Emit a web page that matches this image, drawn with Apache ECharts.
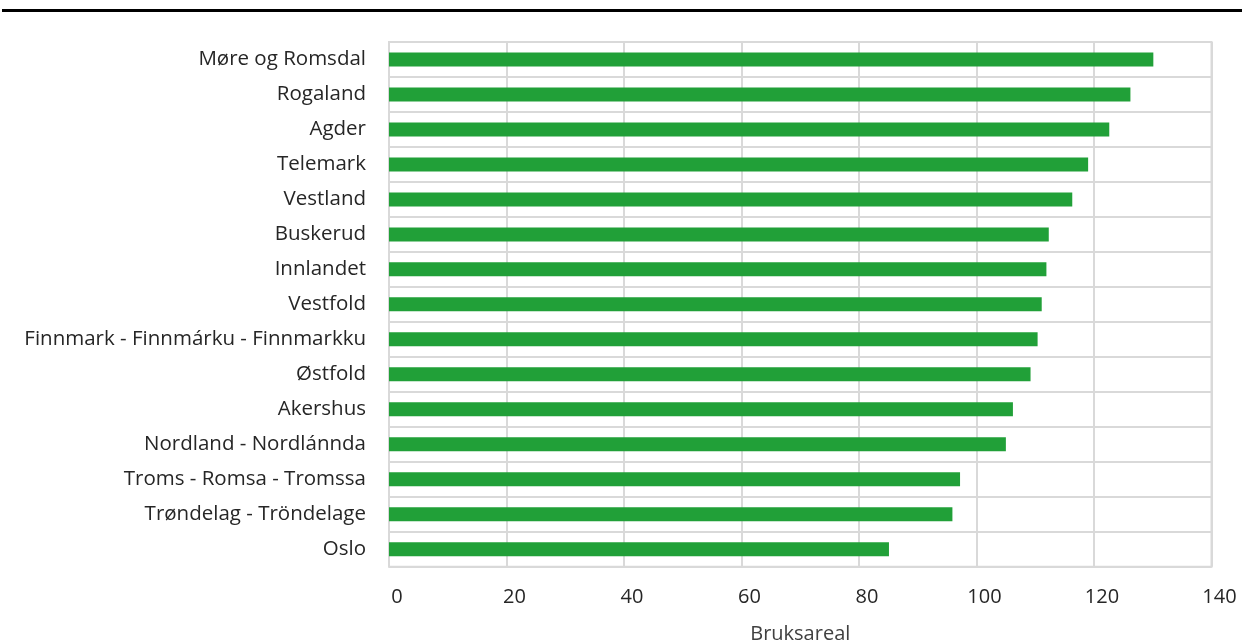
<!DOCTYPE html>
<html>
<head>
<meta charset="utf-8">
<style>html,body{margin:0;padding:0;background:#fff;}#c{width:1242px;height:643px;}</style>
<script src="https://cdn.jsdelivr.net/npm/echarts@6/dist/echarts.min.js"></script>
</head>
<body>
<div id="c"></div>
<script>
const categories = ["Møre og Romsdal","Rogaland","Agder","Telemark","Vestland","Buskerud","Innlandet","Vestfold","Finnmark - Finnmárku - Finnmarkku","Østfold","Akershus","Nordland - Nordlánnda","Troms - Romsa - Tromssa","Trøndelag - Tröndelage","Oslo"];
const values = [130.1,126.2,122.6,119.0,116.3,112.3,111.9,111.1,110.4,109.2,106.2,105.0,97.2,95.9,85.1];
const xTicks = [0,20,40,60,80,100,120,140];
const axisName = "Bruksareal";

const chart = echarts.init(document.getElementById('c'));
chart.setOption({
  animation:false,
  textStyle:{fontFamily:'"Open Sans", sans-serif'},
  graphic:[{type:'rect',shape:{x:2,y:9,width:1240,height:3},style:{fill:'#000'}}],
  grid:{left:389,right:30.5,top:42,bottom:76.3,show:true,borderColor:'#d9d9d9',borderWidth:2,containLabel:false,outerBoundsMode:'none'},
  xAxis:{type:'value',min:xTicks[0],max:xTicks[xTicks.length-1],interval:20,
    name:axisName,nameLocation:'middle',nameGap:58,
    nameTextStyle:{fontSize:20,color:'#404040',fontFamily:'"Open Sans", sans-serif'},
    axisLine:{show:false},axisTick:{show:false},
    axisLabel:{fontSize:20,color:'#262626',margin:21,padding:[0,0,0,16],fontFamily:'"Open Sans", sans-serif'},
    splitLine:{show:true,lineStyle:{color:'#d9d9d9',width:2}}},
  yAxis:{type:'category',data:categories,inverse:true,
    axisLine:{show:false},axisTick:{show:false},
    axisLabel:{fontSize:20.5,color:'#262626',margin:23,fontFamily:'"Open Sans", sans-serif'},
    splitLine:{show:true,lineStyle:{color:'#d9d9d9',width:2}}},
  series:[{type:'bar',data:values,barWidth:14,itemStyle:{color:'#21a038'}}]
});
</script>
</body>
</html>
